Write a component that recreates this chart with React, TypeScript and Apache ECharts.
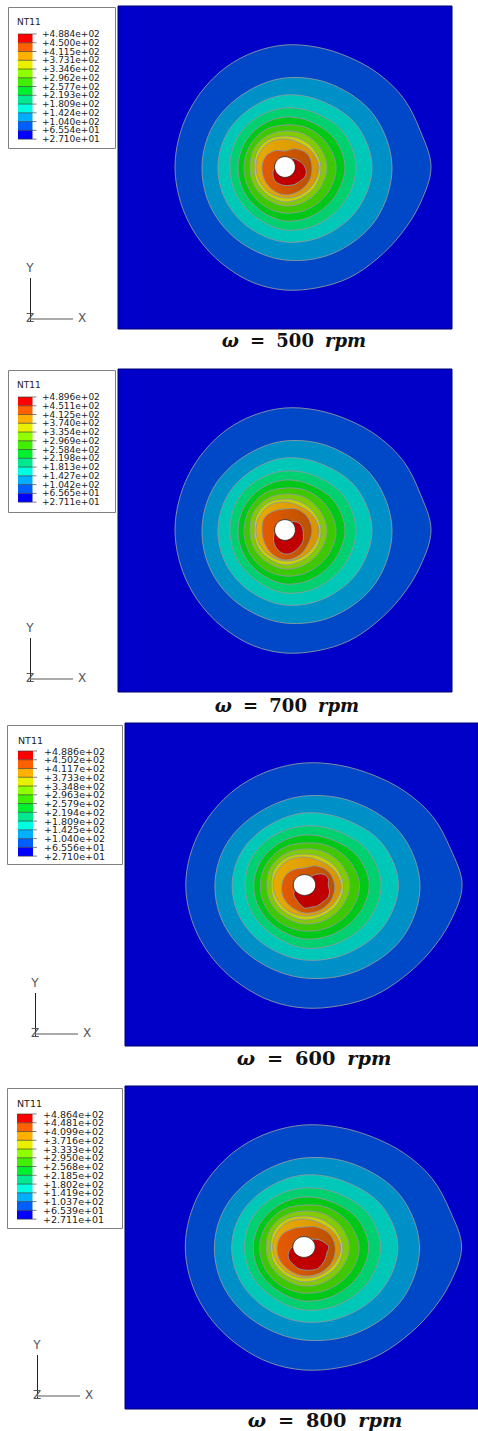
import React, { useEffect, useRef } from "react";
import * as echarts from "echarts";

// Contour radii: distance from the hole centre, evenly spaced counter-clockwise from +X.
const ringLevel1 = [146,140,137,132,127,124,122,119,116,113,111,110,110,110,111,113,116,120,123,125,128,130,134,140];
const ringLevel2 = [107,103,95,89,84,83,83,84.5,87.5,93,99,105];
const ringLevel3 = [87,83,75.5,72,68,67,67,68,70.5,75,79,84];
const ringLevel4 = [71,68,62,59,57,56,55,56,58,63,66,69];
const ringLevel5 = [60,57,52,50,48,47,47,48,50,54,56,58];
const ringLevel6 = [51,48,45,42,42,41,41,42,44,46,48,50];
const ringLevel7 = [42,40,38,36,36,36,35,36,37,39,40,41];
const ringLevel8 = [36,34,32,31,32,32,31,32,33,35,35,36];
const ringLevel9 = [34,31,28,28,29,29,29,29,30,31,32,33];
const outerRings = [ringLevel1, ringLevel2, ringLevel3, ringLevel4, ringLevel5, ringLevel6, ringLevel7, ringLevel8, ringLevel9];

const orange500 = [27,26,21,16,19,22,23,24,26,28,28,28];
const orange700 = [27,26,24,21,22,24,23,24,27,30,29,27];
const orange600 = [28,26,22,17,18,20,21,23,25,28,29,29];
const orange800 = [29,27,23,20,21,24,25,26,27,29,30,30];
const red500 = [20,17,14,12,9,8,8,8,8,8,8,8,10,12,14,16,17.5,18,18.5,19,20,20.5,22,22];
const red700 = [18,17,15,12,9,8,8,8,8,8,8,8,9,11,13,16,19,22,24,24,23,22,21,19];
const red600 = [22,23,21,15,9,8,8,8,8,8,8,8,9,10,11,14,16,19,23,23,24,24,25,24];
const red800 = [23,19,15,11,8,8,8,8,8,8,8,8,11,14,17,19,20,22,23,24,25,24,23,22];

const legend500 = ["+4.884e+02","+4.500e+02","+4.115e+02","+3.731e+02","+3.346e+02","+2.962e+02","+2.577e+02","+2.193e+02","+1.809e+02","+1.424e+02","+1.040e+02","+6.554e+01","+2.710e+01"];
const legend700 = ["+4.896e+02","+4.511e+02","+4.125e+02","+3.740e+02","+3.354e+02","+2.969e+02","+2.584e+02","+2.198e+02","+1.813e+02","+1.427e+02","+1.042e+02","+6.565e+01","+2.711e+01"];
const legend600 = ["+4.886e+02","+4.502e+02","+4.117e+02","+3.733e+02","+3.348e+02","+2.963e+02","+2.579e+02","+2.194e+02","+1.809e+02","+1.425e+02","+1.040e+02","+6.556e+01","+2.710e+01"];
const legend800 = ["+4.864e+02","+4.481e+02","+4.099e+02","+3.716e+02","+3.333e+02","+2.950e+02","+2.568e+02","+2.185e+02","+1.802e+02","+1.419e+02","+1.037e+02","+6.539e+01","+2.711e+01"];

const speeds = ["500", "700", "600", "800"];

const bandColors: any[] = [
  "#0048c8", "#0090c8", "#00c8b8", "#00d070", "#00c818", "#3ec800", "#80cc00", "#c8d000",
  new echarts.graphic.LinearGradient(0, 0, 1, 0, [{ offset: 0, color: "#e8aa00" }, { offset: 1, color: "#d89400" }]),
  new echarts.graphic.LinearGradient(0, 0, 1, 0, [{ offset: 0, color: "#e65a00" }, { offset: 1, color: "#b85200" }]),
  "#c00000",
];
const barColors = ["#ff0000","#ff6000","#ffb000","#e8f000","#90ff00","#40f000","#00f030","#00e890","#00ffe0","#00b0ff","#0060ff","#0000ff"];

const layouts = [
  { panel: [118, 6, 334, 323], axisMax: 334, hole: [285, 167], legend: { box: [8, 7, 107, 141], title: [17, 22], barX: 18, barW: 14.5, top: 34, labelX: 42, font: 9 }, triad: [30, 318], caption: [294, 340.5], captionFont: 18, labels: legend500, orange: orange500, red: red500 },
  { panel: [118, 369, 334, 323], axisMax: 334, hole: [285, 530], legend: { box: [8, 370, 107, 142], title: [17, 385], barX: 18, barW: 14.5, top: 397, labelX: 42, font: 9 }, triad: [30, 678], caption: [287, 705.5], captionFont: 18, labels: legend700, orange: orange700, red: red700 },
  { panel: [125, 723, 353, 323], axisMax: 327, hole: [304.5, 885], legend: { box: [7, 725, 115, 139], title: [18, 740], barX: 18, barW: 15, top: 751, labelX: 44, font: 9.5 }, triad: [35, 1033], caption: [314, 1058], captionFont: 19.3, labels: legend600, orange: orange600, red: red600 },
  { panel: [125, 1086, 353, 323], axisMax: 327, hole: [304, 1247], legend: { box: [7, 1088, 115, 140], title: [17, 1103], barX: 17, barW: 15.5, top: 1114, labelX: 43, font: 9.5 }, triad: [37, 1395], caption: [325, 1420], captionFont: 19.3, labels: legend800, orange: orange800, red: red800 },
];

function legendGraphics(l: any, labels: string[]) {
  const out: any[] = [];
  const [x, y, w, h] = l.box;
  out.push({ type: "rect", shape: { x: x + 0.5, y: y + 0.5, width: w, height: h }, style: { fill: "#fff", stroke: "#808080", lineWidth: 1 }, silent: true });
  out.push({ type: "text", x: l.title[0], y: l.title[1], style: { text: "NT11", fontFamily: "DejaVu Sans", fontSize: l.font, fill: "#222", textVerticalAlign: "middle" }, silent: true });
  const step = 8.76;
  barColors.forEach((c, i) => {
    out.push({ type: "rect", shape: { x: l.barX, y: l.top + i * step, width: l.barW, height: step }, style: { fill: c }, silent: true });
  });
  labels.forEach((t, i) => {
    const ly = l.top + i * step;
    out.push({ type: "line", shape: { x1: l.barX, y1: ly, x2: l.barX + l.barW + 4, y2: ly }, style: { stroke: "#333", lineWidth: 0.8, opacity: 0.8 }, silent: true });
    out.push({ type: "text", x: l.labelX, y: ly, style: { text: t, fontFamily: "DejaVu Sans", fontSize: l.font, fill: "#222", textVerticalAlign: "middle" }, silent: true });
  });
  return out;
}

function triadGraphics(x: number, y: number) {
  const axisText = (t: string, tx: number, ty: number) => ({
    type: "text", x: tx, y: ty,
    style: { text: t, fontFamily: "DejaVu Sans", fontSize: 12, fill: "#555", textAlign: "center", textVerticalAlign: "middle" }, silent: true,
  });
  return [
    { type: "line", shape: { x1: x + 0.5, y1: y - 40, x2: x + 0.5, y2: y + 4 }, style: { stroke: "#222", lineWidth: 1 }, silent: true },
    { type: "line", shape: { x1: x, y1: y + 1, x2: x + 43, y2: y + 1 }, style: { stroke: "#8e8e8e", lineWidth: 1.6 }, silent: true },
    axisText("Y", x, y - 50),
    axisText("Z", x, y),
    axisText("X", x + 52, y),
  ];
}

function captionGraphic(cx: number, cy: number, speed: string, size: number) {
  const base = { fontFamily: "DejaVu Serif", fontWeight: "bold", fontSize: size, fill: "#111" };
  return {
    type: "text", x: cx, y: cy, silent: true,
    style: {
      text: `{i|ω}{s| }={s| }${speed}{s| }{i|rpm}`,
      ...base,
      textAlign: "center", textVerticalAlign: "middle",
      rich: { i: { ...base, fontStyle: "italic" }, s: { ...base, fontSize: size * 1.78, lineHeight: size } },
    },
  };
}

export default function App() {
  const ref = useRef<HTMLDivElement>(null);
  useEffect(() => {
    document.body.style.margin = "0";
    const chart = echarts.init(ref.current!, undefined, { renderer: "svg" });

    const grids: any[] = [], xAxes: any[] = [], yAxes: any[] = [], series: any[] = [], graphics: any[] = [];
    layouts.forEach((p, k) => {
      const [px, py, pw, ph] = p.panel;
      const sx = pw / p.axisMax;
      const cx = (p.hole[0] - px) / sx;
      const cy = py + ph - p.hole[1];
      const rings = [...outerRings, p.orange, p.red];
      grids.push({ left: px, top: py, width: pw, height: ph, show: true, backgroundColor: "#0000c8", borderColor: "#000070", borderWidth: 1 });
      xAxes.push({ type: "value", gridIndex: k, min: 0, max: p.axisMax, show: false });
      yAxes.push({ type: "value", gridIndex: k, min: 0, max: ph, show: false });
      series.push({
        type: "custom", xAxisIndex: k, yAxisIndex: k, silent: true, clip: true,
        data: rings.map((_, i) => [i]),
        renderItem: (_: any, api: any) => {
          const i = api.value(0) as number;
          const radii = rings[i];
          const points = radii.map((r, j) => {
            const a = (j * 2 * Math.PI) / radii.length;
            return api.coord([cx + r * Math.cos(a), cy + r * Math.sin(a)]);
          });
          return {
            type: "polygon",
            shape: { points, smooth: 0.34 },
            style: { fill: bandColors[i], stroke: "#8c98a2", lineWidth: 0.9 },
          };
        },
      });
      series.push({
        type: "custom", xAxisIndex: k, yAxisIndex: k, silent: true,
        data: [[cx, cy, 10.4]],
        renderItem: (_: any, api: any) => {
          const c = api.coord([api.value(0), api.value(1)]);
          const s = api.size([api.value(2), api.value(2)]);
          return { type: "ellipse", shape: { cx: c[0], cy: c[1], rx: s[0], ry: s[1] }, style: { fill: "#fff", stroke: "#222", lineWidth: 0.8 } };
        },
      });
      graphics.push(...legendGraphics(p.legend, p.labels));
      graphics.push(...triadGraphics(p.triad[0], p.triad[1]));
      graphics.push(captionGraphic(p.caption[0], p.caption[1], speeds[k], p.captionFont));
    });

    chart.setOption({ animation: false, backgroundColor: "#fff", grid: grids, xAxis: xAxes, yAxis: yAxes, series, graphic: { elements: graphics } });
    return () => chart.dispose();
  }, []);
  return <div ref={ref} style={{ position: "absolute", left: 0, top: 0, width: 478, height: 1431, overflow: "hidden" }} />;
}
